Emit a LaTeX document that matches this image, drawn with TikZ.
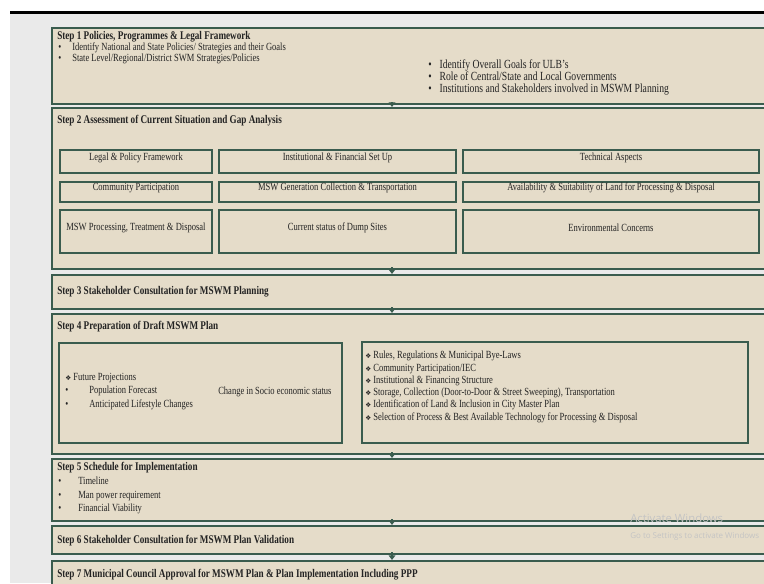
\documentclass[tikz,border=0pt]{standalone}
\usepackage{fontspec}
\setmainfont{Liberation Serif}[FakeStretch=0.78]
\newfontfamily\symfont{DejaVu Sans}
\newfontfamily\wmfont{Open Sans}
\usetikzlibrary{fit}
\usetikzlibrary{arrows.meta}

\definecolor{boxfill}{RGB}{229,220,201}
\definecolor{boxline}{RGB}{58,92,78}
\definecolor{pagegray}{RGB}{234,234,234}
\definecolor{inktext}{RGB}{35,35,35}
\definecolor{wmgray}{RGB}{196,196,196}

\newcommand{\titlefont}{\fontsize{8.8}{10.5}\selectfont\bfseries}
\newcommand{\bodyfont}{\fontsize{8.2}{9.6}\selectfont}
\newcommand{\bul}[2][10.5pt]{\makebox[#1][l]{\textbullet}#2}
\newcommand{\dia}{{\symfont\fontsize{5}{6}\selectfont ❖}}

\tikzset{
  stepbox/.style={draw=boxline, line width=1.5pt, fill=boxfill, inner sep=0pt},
  innerbox/.style={draw=boxline, line width=1.6pt, inner sep=0pt, font=\bodyfont, text=inktext},
  steptitle/.style={anchor=west, inner sep=0pt, font=\titlefont, text=inktext},
  itemlist/.style={anchor=north west, inner sep=0pt, align=left, text=inktext, font=\fontsize{8.2}{#1}\selectfont},
  conn/.style={-{Triangle[width=5pt,length=3.5pt]}, draw=boxline, line width=1.2pt},
  wm/.style={anchor=west, inner sep=0pt, text=wmgray}
}

\begin{document}
\begin{tikzpicture}[x=0.75pt, y=-0.75pt]

  % Page behind the slide
  \clip (0,0) rectangle (764,583);
  \fill[white] (0,0) rectangle (764,583);
  \fill[pagegray] (10,14) rectangle (764,583);
  \draw[line width=2.4pt] (10,12.5) -- (764,12.5);

  % Define the step boxes
  \node[stepbox, fit={(52,28) (800,104)}] (s1) {};
  \node[stepbox, fit={(52,108) (800,269)}] (s2) {};
  \node[stepbox, fit={(52,275) (800,309)}] (s3) {};
  \node[stepbox, fit={(52,314) (800,454)}] (s4) {};
  \node[stepbox, fit={(52,459) (800,521)}] (s5) {};
  \node[stepbox, fit={(52,526) (800,554)}] (s6) {};
  \node[stepbox, fit={(52,561) (800,620)}] (s7) {};

  % Step titles
  \node[steptitle] (t1) at (57,37) {Step 1 Policies, Programmes \& Legal Framework};
  \node[steptitle] (t2) at (57,121) {Step 2 Assessment of Current Situation and Gap Analysis};
  \node[steptitle] (t3) at (57,292) {Step 3 Stakeholder Consultation for MSWM Planning};
  \node[steptitle] (t4) at (57,327) {Step 4 Preparation of Draft MSWM Plan};
  \node[steptitle] (t5) at (57,468) {Step 5 Schedule for Implementation};
  \node[steptitle] (t6) at (57,541) {Step 6 Stakeholder Consultation for MSWM Plan Validation};
  \node[steptitle] (t7) at (57,575) {Step 7 Municipal Council Approval for MSWM Plan \& Plan Implementation Including PPP};

  % Step 1 contents
  \node[itemlist=7.6pt] (frame) at (58,43) {\bul{Identify National and State Policies/ Strategies and their Goals}\\
    \bul{State Level/Regional/District SWM Strategies/Policies}};
  \node[itemlist=9pt, font=\fontsize{9.3}{9}\selectfont] (goals) at (428,59) {\bul[8.5pt]{Identify Overall Goals for ULB's}\\
    \bul[8.5pt]{Role of Central/State and Local Governments}\\
    \bul[8.5pt]{Institutions and Stakeholders involved in MSWM Planning}};

  % Step 2 assessment boxes
  \node[innerbox, fit={(60,150) (212,173)}] (legal) {Legal \& Policy Framework};
  \node[innerbox, fit={(219,150) (456,173)}] (inst) {Institutional \& Financial Set Up};
  \node[innerbox, fit={(463,150) (759,173)}] (tech) {Technical Aspects};
  \node[innerbox, fit={(60,182) (212,202)}] (comm) {Community Participation};
  \node[innerbox, fit={(219,182) (456,202)}] (gen) {MSW Generation Collection \& Transportation};
  \node[innerbox, fit={(463,182) (759,202)}] (land) {Availability \& Suitability of Land for Processing \& Disposal};
  \node[innerbox, fit={(60,210) (212,253)}] (proc) {MSW Processing, Treatment \& Disposal};
  \node[innerbox, fit={(219,210) (456,253)}] (dump) {Current status of Dump Sites};
  \node[innerbox, fit={(463,210) (759,253)}] (env) {Environmental Concerns};

  % Step 4 draft plan boxes
  \node[innerbox, fit={(59,343) (342,443)}] (proj) {};
  \node[innerbox, fit={(362,342) (748,443)}] (rules) {};
  \node[itemlist=10pt] (projlist) at (65,373) {\dia\ Future Projections\\
    \bul[18pt]{Population Forecast}\\
    \bul[18pt]{Anticipated Lifestyle Changes}};
  \node[anchor=west, inner sep=0pt, font=\bodyfont, text=inktext] (socio) at (218,392) {Change in Socio economic status};
  \node[itemlist=9.2pt] (ruleslist) at (365,351) {\dia\ Rules, Regulations \& Municipal Bye-Laws\\
    \dia\ Community Participation/IEC\\
    \dia\ Institutional \& Financing Structure\\
    \dia\ Storage, Collection (Door-to-Door \& Street Sweeping), Transportation\\
    \dia\ Identification of Land \& Inclusion in City Master Plan\\
    \dia\ Selection of Process \& Best Available Technology for Processing \& Disposal};

  % Step 5 contents
  \node[itemlist=10pt] (sched) at (58,477) {\bul[15pt]{Timeline}\\
    \bul[15pt]{Man power requirement}\\
    \bul[15pt]{Financial Viability}};

  % Connect the steps
  \coordinate (ax) at (392,0);
  \draw[conn] ([yshift=2pt]s1.south -| ax) -- (s2.north -| ax);
  \draw[conn] ([yshift=2pt]s2.south -| ax) -- (s3.north -| ax);
  \draw[conn] ([yshift=2pt]s3.south -| ax) -- (s4.north -| ax);
  \draw[conn] ([yshift=2pt]s4.south -| ax) -- (s5.north -| ax);
  \draw[conn] ([yshift=2pt]s5.south -| ax) -- (s6.north -| ax);
  \draw[conn] ([yshift=2pt]s6.south -| ax) -- (s7.north -| ax);

  % Screen overlay
  \node[wm, font=\wmfont\fontsize{8.5}{10}\selectfont] (wm1) at (630,518) {Activate Windows};
  \node[wm, font=\wmfont\fontsize{6}{7}\selectfont] (wm2) at (630,536) {Go to Settings to activate Windows};

\end{tikzpicture}
\end{document}
